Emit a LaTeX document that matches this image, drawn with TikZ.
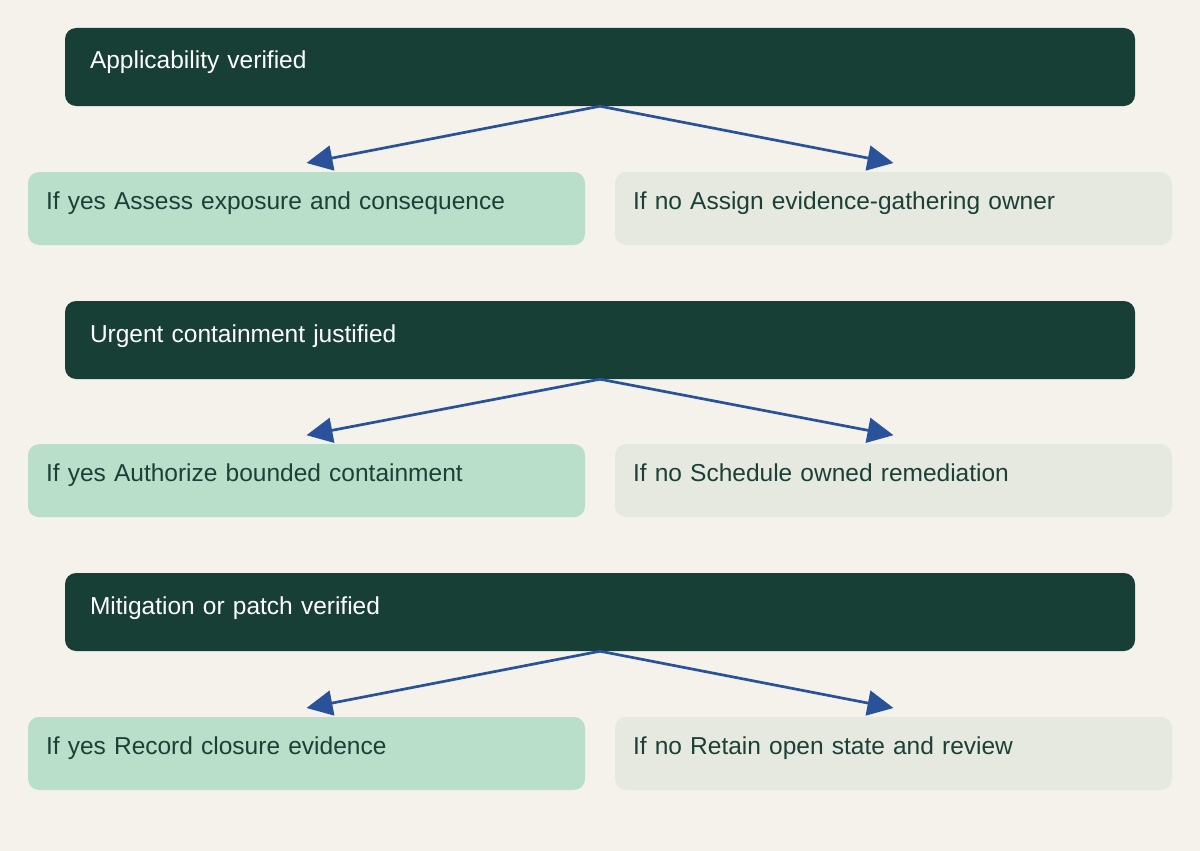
\documentclass[tikz,border=0pt]{standalone}
\usepackage{fontspec}
\setmainfont{Liberation Sans}
\usetikzlibrary{arrows.meta}
\definecolor{bgc}{HTML}{F5F2EB}
\definecolor{darkc}{HTML}{183F36}
\definecolor{yesc}{HTML}{B9DFCA}
\definecolor{noc}{HTML}{E6E9E0}
\definecolor{txtc}{HTML}{1C4036}
\definecolor{arrc}{HTML}{2A529A}
\tikzset{
  decision/.style={rectangle, rounded corners=11pt, fill=darkc, text=white,
    inner xsep=25pt, inner ysep=0pt, text width=1020pt, align=left,
    text height=41pt, text depth=37pt, font=\fontsize{24.5}{28}\selectfont},
  outcome/.style={rectangle, rounded corners=11pt, text=txtc,
    inner xsep=18pt, inner ysep=0pt, text width=521pt, align=left,
    text height=37.5pt, text depth=35.5pt, outer ysep=9pt,
    font=\fontsize{24.5}{28}\selectfont},
  yesbox/.style={outcome, fill=yesc},
  nobox/.style={outcome, fill=noc},
  flow/.style={draw=arrc, line width=2.7pt, -{Triangle[length=26pt,width=25pt]}}
}
\begin{document}
\begin{tikzpicture}[x=1pt,y=-1pt]
\fill[bgc] (0,0) rectangle (1200,851);
\useasboundingbox (0,0) rectangle (1200,851);

\node[decision] (d1) at (600,67) {Applicability verified};
\node[yesbox] (y1) at (306.5,208.5) {If yes Assess exposure and consequence};
\node[nobox] (n1) at (893.5,208.5) {If no Assign evidence-gathering owner};

\node[decision] (d2) at (600,340) {Urgent containment justified};
\node[yesbox] (y2) at (306.5,480.7) {If yes Authorize bounded containment};
\node[nobox] (n2) at (893.5,480.7) {If no Schedule owned remediation};

\node[decision] (d3) at (600,612) {Mitigation or patch verified};
\node[yesbox] (y3) at (306.5,753.5) {If yes Record closure evidence};
\node[nobox] (n3) at (893.5,753.5) {If no Retain open state and review};

\draw[flow] (d1.south) -- (y1.north);
\draw[flow] (d1.south) -- (n1.north);
\draw[flow] (d2.south) -- (y2.north);
\draw[flow] (d2.south) -- (n2.north);
\draw[flow] (d3.south) -- (y3.north);
\draw[flow] (d3.south) -- (n3.north);
\end{tikzpicture}
\end{document}
